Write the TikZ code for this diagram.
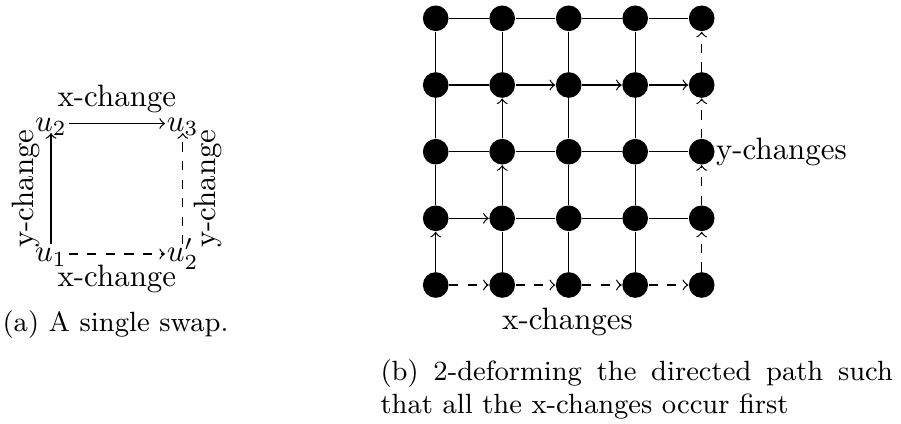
\documentclass[tikz,border=0pt]{standalone}
\begin{document}
\begin{tikzpicture}[x=0.3236pt,y=-0.3236pt,
  dot/.style={circle,fill=black,draw=none,inner sep=0pt,minimum size=8.3pt},
  unode/.style={inner sep=0.4pt,text height=5pt,text depth=0pt},
  plain/.style={line width=0.4pt},
  arr/.style={->,line width=0.4pt},
  darr/.style={->,dashed,line width=0.4pt},
  txt/.style={inner sep=0pt}]
\useasboundingbox (0,0) rectangle (901,424);
% (a) single swap
\node[unode] (u2) at (51,123.5) {$u_2$};
\node[unode] (u3) at (182.7,123.5) {$u_3$};
\node[unode] (u1) at (51,254) {$u_1$};
\node[unode] (u2p) at (182.7,254) {$u_2'$};
\draw[arr] (u2) -- node[above] (lx1) {x-change} (u3);
\draw[arr] (u1) -- node[rotate=90,anchor=south] (ly1) {y-change} (u2);
\draw[darr] (u1) -- node[below] (lx2) {x-change} (u2p);
\draw[darr] (u2p) -- node[rotate=90,anchor=north] (ly2) {y-change} (u3);
\node[txt,anchor=base west] (capa) at (2,332) {\small (a) A single swap.};
% (b) grid
\foreach \i/\x in {0/435.7,1/502.2,2/568.7,3/635.2,4/701.7}
  \foreach \j/\y in {0/18.3,1/85,2/151.7,3/218.3,4/285}
    \node[dot] (g\i\j) at (\x,\y) {};
% plain edges
\foreach \a/\b in {00/10,10/20,20/30,30/40,
                   01/11,
                   02/12,12/22,22/32,32/42,
                   13/23,23/33,33/43,
                   03/02,02/01,01/00,
                   14/13,11/10,
                   24/23,23/22,22/21,21/20,
                   34/33,33/32,32/31,31/30}
  \draw[plain] (g\a) -- (g\b);
% solid arrows
\foreach \a/\b in {11/21,21/31,31/41,03/13,04/03,13/12,12/11}
  \draw[arr] (g\a) -- (g\b);
% dashed arrows
\foreach \a/\b in {04/14,14/24,24/34,34/44,44/43,43/42,42/41,41/40}
  \draw[darr] (g\a) -- (g\b);
\node[txt,anchor=base west] (ylab) at (715.5,159.4) {y-changes};
\node[txt,anchor=base] (xlab) at (567.5,330) {x-changes};
\node[txt,anchor=base west] (capb) at (380,380) {\parbox[t]{165.8pt}{\small (b) 2-deforming the directed path such that all the x-changes occur first}};
\end{tikzpicture}
\end{document}
